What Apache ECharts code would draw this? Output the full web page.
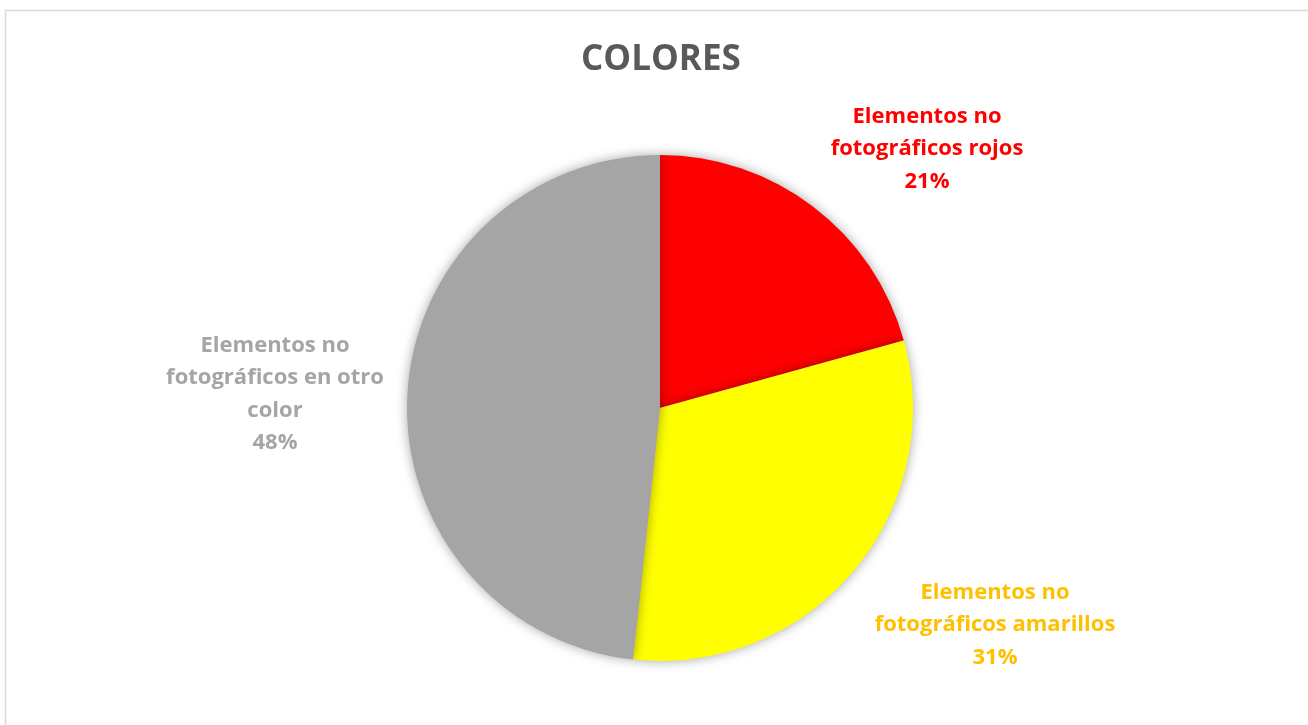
<!DOCTYPE html>
<html><head><meta charset="utf-8">
<script src="https://cdn.jsdelivr.net/npm/echarts@6/dist/echarts.min.js"></script>
<style>html,body{margin:0;padding:0;background:#fff}#c{width:1308px;height:725px}</style>
</head><body><div id="c"></div>
<script>
const titleText = 'COLORES';
const categories = ['Elementos no\nfotográficos rojos', 'Elementos no\nfotográficos amarillos', 'Elementos no\nfotográficos en otro\ncolor'];
const values = [20.7, 31.0, 48.3];
const sliceColors = ['#FF0000', '#FFFF00', '#A5A5A5'];
const labelColors = ['#FF0000', '#FFC000', '#A5A5A5'];
const labelPos = [[927, 149], [995, 625], [275, 394]];

const chart = echarts.init(document.getElementById('c'), null, {renderer: 'canvas'});
const FONT = '"Open Sans", Lato, sans-serif';
chart.setOption({
  animation: false,
  graphic: [{type: 'rect', shape: {x: 5.5, y: 10.5, width: 1320, height: 730}, style: {fill: 'none', stroke: '#D9D9D9', lineWidth: 1.5}, z: -1}],
  title: {text: titleText, left: 576, top: 38, textStyle: {fontFamily: FONT, fontSize: 35, fontWeight: 'bold', color: '#595959'}},
  series: [{
    type: 'pie',
    center: [660, 408],
    radius: 253,
    startAngle: 90,
    clockwise: true,
    data: categories.map((c, i) => ({name: c, value: values[i],
      itemStyle: {color: sliceColors[i]},
      label: {color: labelColors[i]}})),
    itemStyle: {shadowBlur: 12, shadowColor: 'rgba(0,0,0,0.35)', borderWidth: 0},
    label: {show: true, position: 'outside', formatter: p => p.name + '\n' + Math.round(p.percent) + '%',
      fontFamily: FONT, fontSize: 22, fontWeight: 'bold', lineHeight: 32.5, align: 'center'},
    labelLine: {show: false},
    labelLayout: p => ({x: labelPos[p.dataIndex][0], y: labelPos[p.dataIndex][1], align: 'center', verticalAlign: 'middle'})
  }]
});
</script></body></html>
